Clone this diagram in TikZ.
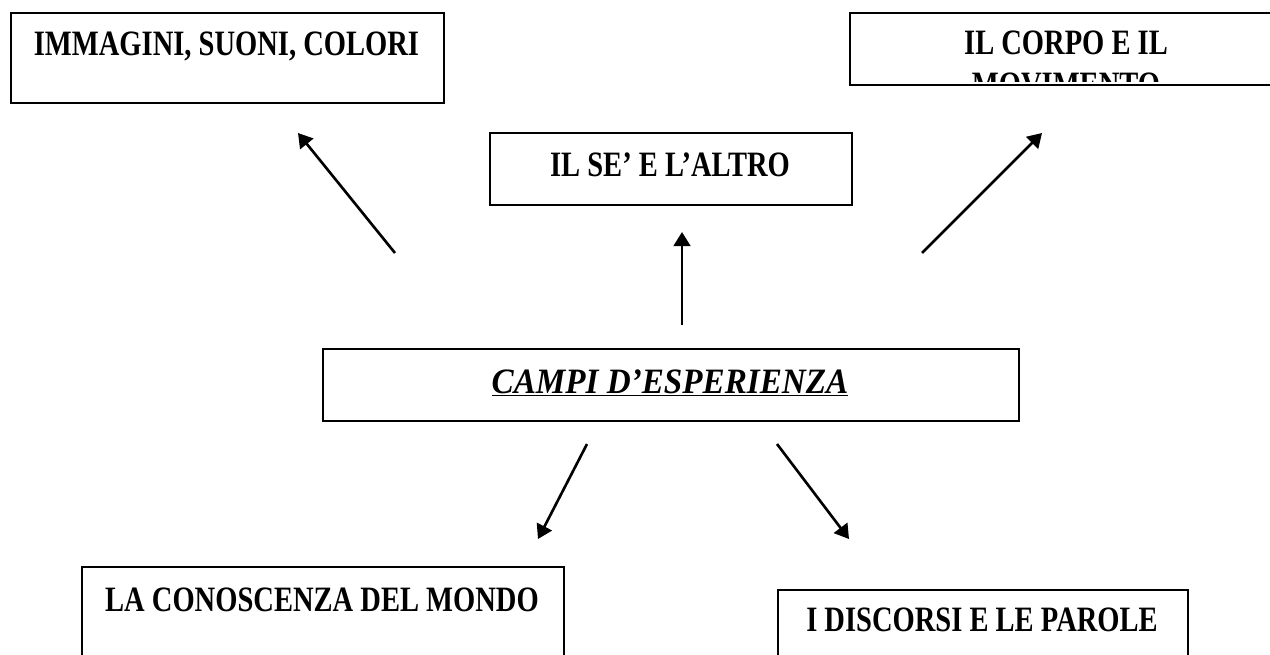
\documentclass[tikz,border=0pt]{standalone}
\usepackage{fontspec}
\setmainfont{Liberation Serif}[FakeStretch=0.8]
\newfontfamily\campifont{Liberation Serif}[FakeStretch=0.93]
\usetikzlibrary{positioning, arrows.meta}

\begin{document}
\begin{tikzpicture}[x=0.02cm, y=-0.02cm,
      -{Triangle[length=8pt, width=9.5pt]}, line width=1.5pt,
      box/.style={rectangle, draw, line width=1.2pt, anchor=north west, inner sep=0pt},
      txt/.style={anchor=base, inner sep=0pt,
        font=\fontsize{20.3}{22}\selectfont\bfseries}]
      \useasboundingbox (0,0) rectangle (1270,654);
      % boxes
      \node[box, minimum width=8.66cm, minimum height=1.8cm] (imm_box) at (10,12) {};
      \node[box, minimum width=8.68cm, minimum height=1.44cm] (corpo_box) at (849,12) {};
      \node[box, minimum width=7.24cm, minimum height=1.44cm] (se_box) at (489,132) {};
      \node[box, minimum width=13.92cm, minimum height=1.44cm] (campi_box) at (322,348) {};
      \node[box, minimum width=9.64cm, minimum height=2cm] (mondo_box) at (81,566) {};
      \node[box, minimum width=8.2cm, minimum height=1.8cm] (parole_box) at (777,589) {};
      % texts
      \node[txt] (imm) at (226.5,55) {IMMAGINI, SUONI, COLORI};
      \node[txt] (corpo) at (1066,54) {IL CORPO E IL};
      \begin{scope}
        \clip (850,13) rectangle (1290,81);
        \node[txt] (movimento) at (1066,96) {MOVIMENTO};
      \end{scope}
      \node[txt] (se) at (670,176) {IL SE’ E L’ALTRO};
      \node[txt, font=\fontsize{20.3}{22}\selectfont\campifont\bfseries\itshape]
        (campi) at (670,393) {\underline{CAMPI D’ESPERIENZA}};
      \node[txt] (mondo) at (322,611) {LA CONOSCENZA DEL MONDO};
      \node[txt] (parole) at (982,631) {I DISCORSI E LE PAROLE};
      % arrows
      \coordinate (c_1) at (395,253);  \coordinate (imm_in) at (298,133);
      \coordinate (c_2) at (682,325);  \coordinate (se_in) at (682,232);
      \coordinate (c_3) at (922,253);  \coordinate (corpo_in) at (1042,133);
      \coordinate (c_4) at (587,444);  \coordinate (mondo_in) at (538,539);
      \coordinate (c_5) at (777,444);  \coordinate (parole_in) at (849,539);
      \path (c_1) edge (imm_in);
      \path (c_2) edge (se_in);
      \path (c_3) edge (corpo_in);
      \path (c_4) edge (mondo_in);
      \path (c_5) edge (parole_in);
\end{tikzpicture}
\end{document}
